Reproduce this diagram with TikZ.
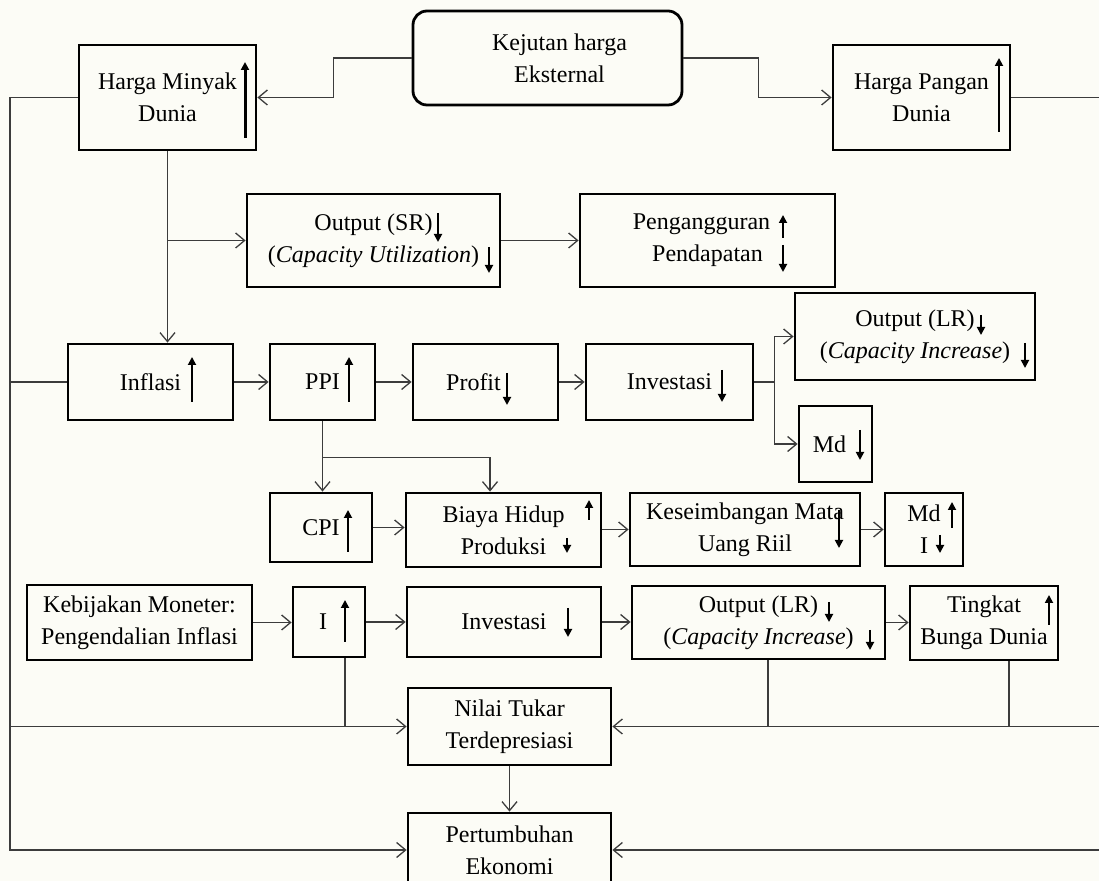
\documentclass[tikz,border=0pt]{standalone}
\usepackage{fontspec}
\setmainfont{Liberation Serif}
\usetikzlibrary{arrows.meta}
\definecolor{paper}{RGB}{252,252,246}
\definecolor{wire}{RGB}{60,60,60}

\begin{document}
\begin{tikzpicture}[x=0.5pt,y=-0.5pt]
    \tikzstyle{box}=[draw=black,line width=1.4pt,inner sep=0pt,align=center,font=\fontsize{12}{16}\selectfont]
    \tikzstyle{link}=[draw=wire,line width=0.65pt]
    \tikzstyle{goes}=[link,-{Straight Barb[length=4.5pt,width=7.5pt]}]
    \tikzstyle{trend}=[line width=0.9pt,-{Triangle[length=4pt,width=4pt]}]
    \useasboundingbox (0,0) rectangle (1099,881);
    \fill[paper] (0,0) rectangle (1099,881);

    % top row
    \node[box,rounded corners=7pt,minimum width=134.5pt,minimum height=47pt] (shock) at (547.5,58) {\hspace*{12pt}Kejutan harga\\\hspace*{12pt}Eksternal};
    \node[box,minimum width=88.5pt,minimum height=52.5pt] (minyak) at (167.5,97.5) {Harga Minyak\\Dunia};
    \node[box,minimum width=88.5pt,minimum height=52.5pt] (pangan) at (921.5,97.5) {Harga Pangan\\Dunia};

    % short run
    \node[box,minimum width=126.5pt,minimum height=46.5pt] (outsr) at (373.5,240.5) {Output (SR)\\(\textit{Capacity Utilization})};
    \node[box,minimum width=127.5pt,minimum height=46.5pt] (nganggur) at (707.5,240.5) {Pengangguran\hspace*{6pt}\\Pendapatan};

    % inflation chain
    \node[box,minimum width=82.5pt,minimum height=38pt] (inflasi) at (150.5,382) {Inflasi};
    \node[box,minimum width=52.5pt,minimum height=38pt] (ppi) at (322.5,382) {PPI};
    \node[box,minimum width=72.5pt,minimum height=38pt] (profit) at (485.5,382) {Profit\hspace*{12pt}};
    \node[box,minimum width=83.5pt,minimum height=38pt] (invest) at (669.5,382) {Investasi};
    \node[box,minimum width=120pt,minimum height=43.5pt] (outlr) at (915,336.5) {Output (LR)\\(\textit{Capacity Increase})};
    \node[box,minimum width=36.5pt,minimum height=38pt] (mdturun) at (835.5,444) {Md\hspace*{6pt}};

    % cost of living
    \node[box,minimum width=51pt,minimum height=34.5pt] (cpi) at (321,527.5) {CPI};
    \node[box,minimum width=97.5pt,minimum height=37pt] (biaya) at (503.5,530) {Biaya Hidup\\Produksi};
    \node[box,minimum width=115pt,minimum height=36.5pt] (riil) at (745,529.5) {Keseimbangan Mata\\Uang Riil};
    \node[box,minimum width=39pt,minimum height=36.5pt] (mdbunga) at (924,529.5) {Md\\I};

    % monetary policy
    \node[box,minimum width=112.5pt,minimum height=37.5pt] (kebijakan) at (139.5,622.5) {Kebijakan Moneter:\\Pengendalian Inflasi};
    \node[box,minimum width=36pt,minimum height=35pt] (bunga) at (329,622) {I\hspace*{6pt}};
    \node[box,minimum width=97pt,minimum height=35pt] (invest2) at (504,622) {Investasi};
    \node[box,minimum width=126.5pt,minimum height=36.5pt] (outlr2) at (758.5,622.5) {Output (LR)\\(\textit{Capacity Increase})};
    \node[box,minimum width=74pt,minimum height=37pt] (tingkat) at (984,623) {Tingkat\\Bunga Dunia};

    % bottom
    \node[box,minimum width=101.5pt,minimum height=38.5pt] (tukar) at (509.5,726.5) {Nilai Tukar\\Terdepresiasi};
    \node[box,minimum width=101.5pt,minimum height=37pt] (tumbuh) at (509.5,850) {Pertumbuhan\\Ekonomi};

    % connectors
    \coordinate (kiri) at (10,850);
    \coordinate (kanan) at (1102,850);
    \draw[goes] (shock.west) -- ++(-78,0) |- (minyak.east);
    \draw[goes] (shock.east) -- ++(75,0) |- (pangan.west);
    \draw[goes] (minyak.west) -| (kiri) -- (tumbuh.west);
    \draw[goes] (pangan.east) -| (kanan) -- (tumbuh.east);
    \draw[link] (kiri |- inflasi.west) -- (inflasi.west);
    \draw[goes] (kiri |- tukar.west) -- (tukar.west);
    \draw[goes] (kanan |- tukar.east) -- (tukar.east);
    \draw[goes] (minyak.south) -- (minyak.south |- inflasi.north);
    \draw[goes] (minyak.south |- outsr.west) -- (outsr.west);
    \draw[goes] (outsr.east) -- (nganggur.west);
    \draw[goes] (inflasi.east) -- (ppi.west);
    \draw[goes] (ppi.east) -- (profit.west);
    \draw[goes] (profit.east) -- (invest.west);
    \draw[goes] (invest.east) -- ++(20,0) |- (outlr.west);
    \draw[goes] (invest.east) -- ++(20,0) |- (mdturun.west);
    \draw[goes] (ppi.south) -- (ppi.south |- cpi.north);
    \draw[goes] (ppi.south) ++(0,36) -| ([xshift=-6.75pt]biaya.north);
    \draw[goes] (cpi.east) -- (cpi.east -| biaya.west);
    \draw[goes] (riil.west -| biaya.east) -- (riil.west);
    \draw[goes] (riil.east) -- (mdbunga.west);
    \draw[goes] (kebijakan.east) -- (kebijakan.east -| bunga.west);
    \draw[goes] (bunga.east) -- (invest2.west);
    \draw[goes] (invest2.east) -- (invest2.east -| outlr2.west);
    \draw[goes] (outlr2.east) -- (outlr2.east -| tingkat.west);
    \draw[link] ([xshift=8pt]bunga.south) -- ([xshift=8pt]bunga.south |- tukar.west);
    \draw[link] ([xshift=4.75pt]outlr2.south) -- ([xshift=4.75pt]outlr2.south |- tukar.east);
    \draw[link] ([xshift=12.5pt]tingkat.south) -- ([xshift=12.5pt]tingkat.south |- tukar.east);
    \draw[goes] (tukar.south) -- (tumbuh.north);

    % up / down marks
    \draw[trend,line width=1.5pt] (245,138) -- (245,62);
    \foreach \x/\a/\b in {999/132/58, 438/213/242, 489/247/273, 783/238/215, 783/245/272,
        192/402/357, 349/402/357, 507/373/405, 722/370/402, 981/315/335, 1025/343/368,
        860/430/460, 348/552/510, 589/520/500, 567/538/553, 839/510/548, 952/528/502,
        940/535/553, 345/642/600, 568/608/637, 829/602/622, 870/630/650, 1049/625/595}
        \draw[trend] (\x,\a) -- (\x,\b);
\end{tikzpicture}
\end{document}
